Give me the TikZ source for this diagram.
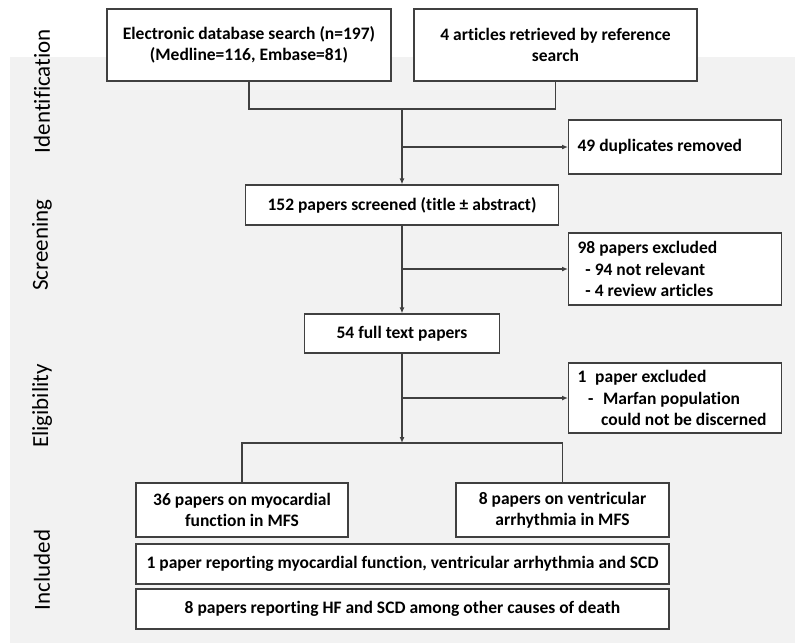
\documentclass[tikz,border=0pt]{standalone}
\usepackage{fontspec}
\setmainfont{Carlito}[Ligatures=NoCommon]
\usetikzlibrary{arrows.meta}
\definecolor{linec}{HTML}{404040}
\definecolor{bgc}{HTML}{F2F2F2}
\tikzset{
  box/.style={draw=linec, line width=1.2pt, fill=white, inner sep=0pt, align=center,
    font=\bfseries\fontsize{17.5}{21.5}\selectfont},
  lbox/.style={box, align=flush left, anchor=west, inner xsep=9pt, text width=195pt},
  conn/.style={draw=linec, line width=1.2pt},
  arr/.style={conn, -{Latex[length=6pt,width=5pt]}},
  phase/.style={rotate=90, font=\fontsize{23}{25}\selectfont, anchor=center}
}
\begin{document}
\begin{tikzpicture}[x=1pt,y=-1pt]
\useasboundingbox (0,0) rectangle (795,643);
\fill[white] (0,0) rectangle (795,643);
\fill[bgc] (10,57) rectangle (795,643);
% phase labels
\node[phase] (pid) at (42,91) {Identification};
\node[phase] (psc) at (42,245) {Screening};
\node[phase] (pel) at (42,406) {Eligibility};
\node[phase] (pin) at (42,570) {Included};
% boxes
\node[box, minimum width=284, minimum height=72] (b1) at (249,45)
  {Electronic database search (n=197)\\(Medline=116, Embase=81)};
\node[box, minimum width=283, minimum height=72] (b2) at (555.5,45)
  {4 articles retrieved by reference\\search};
\node[lbox, minimum width=213, minimum height=54] (dup) at (568,147)
  {49 duplicates removed};
\node[box, minimum width=313, minimum height=40] (b3) at (402,205)
  {152 papers screened (title ± abstract)};
\node[lbox, minimum width=213, minimum height=72] (ex98) at (568,269)
  {98 papers excluded\\\hspace*{0.45em}- 94 not relevant\\\hspace*{0.45em}- 4 review articles};
\node[box, minimum width=195, minimum height=39] (b54) at (402,333.5)
  {54 full text papers};
\node[lbox, minimum width=213, minimum height=70] (ex1) at (568,398)
  {1\hspace{0.5em}paper excluded\\\hspace*{0.6em}-\hspace{0.55em}Marfan population\\\hspace*{1.35em}could not be discerned};
\node[box, minimum width=212, minimum height=54] (b36) at (242,510)
  {36 papers on myocardial\\function in MFS};
\node[box, minimum width=213, minimum height=54] (b8) at (562.5,510)
  {8 papers on ventricular\\arrhythmia in MFS};
\node[box, minimum width=533, minimum height=40] (b1p) at (402.5,564)
  {1 paper reporting myocardial function, ventricular arrhythmia and SCD};
\node[box, minimum width=533, minimum height=40] (b8p) at (402.5,609)
  {8 papers reporting HF and SCD among other causes of death};
% connectors
\coordinate (j1) at (402,109);
\coordinate (j2) at (402,443);
\draw[conn] (b1.south) |- (j1) -| (b2.south);
\draw[arr] (j1) -- (b3.north);
\draw[arr] (j1 |- dup.west) -- (dup.west);
\draw[arr] (b3.south) -- (b54.north);
\draw[arr] (b3.south |- ex98.west) -- (ex98.west);
\draw[arr] (b54.south) -- (j2);
\draw[arr] (b54.south |- ex1.west) -- (ex1.west);
\draw[conn] (b36.north) |- (j2) -| (b8.north);
\end{tikzpicture}
\end{document}
